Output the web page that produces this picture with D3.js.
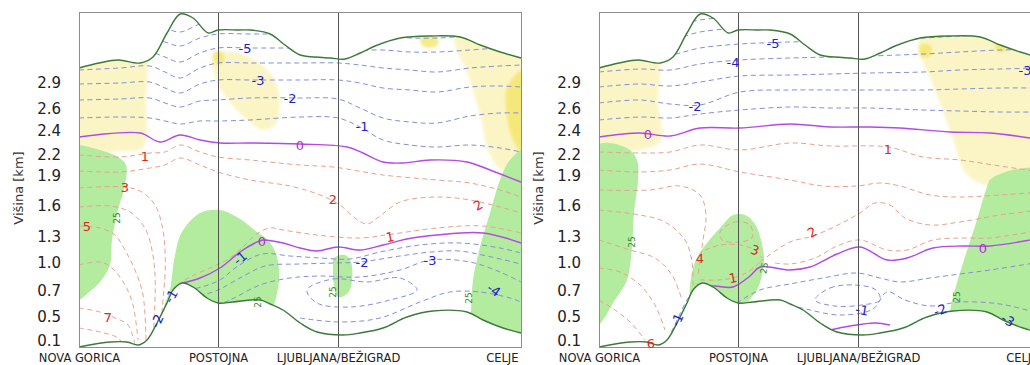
<!DOCTYPE html>
<html>
<head>
<meta charset="utf-8">
<script src="https://cdn.jsdelivr.net/npm/d3@7"></script>
<style>
  body { margin: 0; background: #fff; }
  svg { display: block; font-family: "DejaVu Sans", sans-serif; }
</style>
</head>
<body>
<svg id="chart" width="1030" height="365"></svg>
<script>
// x = distance along the section (km), z = model level coordinate
const stationNames = ["NOVA GORICA", "POSTOJNA", "LJUBLJANA/BEŽIGRAD", "CELJE"];
const stationKm = [0, 34.75, 64.75, 110.5];
const tickLabels = ["0.1", "0.5", "0.7", "1.0", "1.3", "1.6", "1.9", "2.2", "2.4", "2.6", "2.9"];
const tickLevels = [0.73, 3.13, 5.73, 8.53, 11.13, 14.2, 17.2, 19.3, 21.73, 23.97, 26.53];

const topEdge = [[0,28.0],[5,28.5],[9.8,28.8],[15.3,28.5],[18.5,29.1],[22,31.5],[25.3,33.4],[28.5,33.0],[32.3,31.5],[34.8,31.8],[40,31.8],[42.8,31.8],[47.8,31.4],[51.5,30.3],[55.3,29.3],[59,29.1],[62.8,29.0],[66.5,28.9],[70.3,29.5],[74,30.2],[80.3,31.0],[87.8,31.2],[95.3,31.1],[100.3,30.3],[105.3,29.6],[110.5,29.0]];
const terrain = [[0,0.1],[7.8,0.6],[12,0.6],[14.8,0.3],[17,0.8],[19.5,2.5],[22,4.5],[23.5,5.8],[25.8,6.5],[28.5,6.1],[32,5.0],[34.8,4.5],[38.5,4.6],[45.3,4.8],[47.8,4.4],[51,3.8],[55.3,2.5],[59.5,1.6],[66,1.3],[70.3,1.5],[76,2.0],[82,3.1],[88.5,3.7],[97,3.6],[101,2.8],[106,2.0],[110.5,1.5]];

// ---- panel 1 ----
const p1UpperX = [0,10.25,17.75,21.5,25.25,30.25,34.75,42.75,55.25,64.75,70.25,76,82.75,89.5,97.75,105.25,110.5];
const p1UpperZ = [
  [23.0,23.1,23.0,22.7,22.4,22.7,22.7,22.8,23.1,23.0,22.1,20.8,20.3,20.1,20.3,20.0,19.6],
  [24.8,24.9,25.0,24.5,24.1,24.7,24.8,25.0,25.0,24.9,24.0,23.0,22.6,22.5,23.2,23.5,23.5],
  [26.4,26.5,26.6,26.0,25.5,26.4,26.8,26.8,26.8,26.8,26.5,26.0,25.8,25.6,26.1,26.2,26.1],
  [27.8,28.0,28.2,27.6,27.0,28.0,28.5,28.5,28.5,28.5,28.3,28.0,27.8,27.6,28.0,28.2,28.3],
  [29.2,29.4,29.6,29.1,28.6,29.5,30.0,30.0,30.0,30.0,29.8,29.8,29.6,29.6,29.8,30.0,30.0],
  [30.6,30.8,31.0,30.6,30.2,31.0,31.4,31.4,31.4,31.4,31.2,31.2,31.0,31.0,31.2,31.4,31.4],
  [32.0,32.2,32.4,32.0,31.6,32.4,32.8,32.8,32.8,32.8,32.6,32.6,32.4,32.4,32.6,32.8,32.8]
];
const p1Zero = [
  [[0,21.1],[15.25,21.5],[20.25,20.6],[25.25,21.3],[30.25,20.8],[35.25,20.5],[42.75,20.5],[55.25,20.4],[67,20.1],[71,19.5],[76,18.6],[81,18.5],[87.75,18.8],[97,18.6],[102.75,17.8],[110.5,16.6]],
  [[25.75,6.5],[30.25,7.0],[35.25,8.0],[40.25,9.6],[44,10.5],[46,10.8],[51,10.5],[55.25,10.0],[59.5,9.7],[64.75,10.1],[70.25,9.8],[76,10.3],[82,10.9],[89.5,11.3],[101,11.5],[110.5,10.5]]
];
const p1Red = [
  [[0,19.3],[10.25,19.1],[17.75,19.5],[21.5,19.6],[25.25,20.3],[30.25,19.6],[34.75,19.1],[42.75,18.8],[55.25,18.3],[63.5,18.1],[76,17.3],[89.5,16.8],[97.75,16.5],[105.25,15.8],[110.5,15.1]],
  [[0,17.7],[10.25,17.6],[17.75,18.0],[21.5,18.3],[25.25,19.0],[30.25,18.3],[34.75,17.6],[42.75,16.8],[52.75,16.2],[60.25,15.3],[65.25,14.3],[69,13.0],[72,12.4],[75.25,13.2],[80.25,14.6],[89.5,15.1],[97.75,14.8],[105.25,14.1],[110.5,13.5]],
  [[22.75,4.8],[24.75,6.3],[27.75,7.1],[32.75,8.0],[37.75,9.0],[41.5,10.3],[44,11.3],[47.75,12.0],[51,11.8],[59.5,11.3],[70.25,11.0],[78.5,11.4],[89.5,12.0],[101,12.2],[110.5,11.5]],
  [[0,16.0],[11.5,16.1],[15.75,15.6],[19,14.3],[20.75,12.3],[21.5,9.8],[21.5,7.3],[21,4.8],[20.25,0.8]],
  [[0,14.1],[7.75,14.2],[12.75,13.6],[16.5,12.0],[18.25,9.8],[19,7.3],[19,4.8],[18.5,0.8]],
  [[0,12.2],[5.25,12.0],[9,11.3],[11.5,9.8],[14,7.8],[16,5.3],[16.75,0.8]],
  [[0,8.3],[5.25,8.6],[8.25,8.0],[11.5,6.3],[13.5,4.3],[14.75,0.8]],
  [[0,4.0],[5.25,3.6],[9,3.0],[12.25,2.3],[14,0.3]],
  [[0,2.0],[5.25,1.6],[9.75,1.0],[11.5,0]]
];
const p1Blue = [
  [[20.25,1.8],[22.25,3.8],[24.25,5.3],[27.75,5.8],[31.5,6.2],[35.25,6.8],[39.75,8.2],[45.75,9.4],[52.75,9.2],[60.25,9.0],[67.75,8.9],[75.25,9.6],[85.25,10.3],[95.25,10.5],[105.25,10.0],[110.5,9.5]],
  [[22.75,2.3],[25.25,4.0],[29,5.0],[34.75,5.8],[40.25,7.0],[46.5,8.2],[55.25,8.4],[64,8.5],[70.25,8.6],[80.25,9.2],[88,9.6],[95,9.7],[102,9.2],[110.5,8.4]],
  [[30.25,3.6],[37.75,4.8],[45.25,6.3],[52.75,7.0],[60.25,7.2],[70.25,7.1],[80.25,7.8],[87.75,8.8],[97.75,8.6],[105.25,7.6],[110.5,6.6]],
  [[55.25,3.0],[65.25,2.6],[75.25,3.0],[85.25,4.6],[92.75,5.6],[100.25,5.6],[107.75,5.0],[110.5,4.6]]
];
const p1BlueLoops = [
  [[57,5.8],[63.5,6.9],[72,6.6],[80.25,7.0],[84.5,5.8],[77.75,4.8],[67.75,4.1],[59.5,4.5]]
];
const p1Green = [
  [[-3,20.3],[0,20.3],[5.25,19.8],[9.75,19.1],[11.75,18.3],[11.5,16.3],[9.75,13.8],[8.25,10.8],[7.75,8.3],[5.25,6.6],[2.25,5.5],[0,4.8],[-3,4.8]],
  [[21.5,3.8],[22.75,5.8],[24,9.3],[25.75,11.6],[30.25,13.5],[35.25,13.8],[40.25,12.9],[44.5,11.6],[47.25,10.8],[49.5,9.1],[50,6.8],[48.75,4.3],[46.5,2.3],[30.25,1.3]],
  [[63.75,9.0],[66.5,9.3],[68,8.6],[68.25,6.8],[67.25,5.5],[64.75,5.1],[63.75,6.3],[63.5,8.0]],
  [[111.25,19.8],[107.75,18.8],[105.25,16.8],[102.75,13.5],[100.25,10.1],[98.5,6.8],[98,3.8],[97.75,0.8],[111.25,0.3]]
];
const p1Yellow = [
  [[-0.75,29.3],[16,29.3],[16.75,24.8],[16,20.0],[11.5,19.7],[-0.75,20.0]],
  [[33.5,29.3],[39,29.6],[44.75,28.6],[49,26.8],[50.25,24.3],[49,22.3],[45.75,21.8],[41.5,23.0],[37.25,24.8],[34.25,26.8]],
  [[94,31.0],[102.75,31.2],[111.25,29.8],[111.25,18.0],[106.5,17.6],[102.75,19.3],[100.25,23.3],[97.25,27.3]]
];
const p1Bright = [
  [[33.75,29.6],[35.75,29.6],[36.25,28.6],[34.25,28.4]],
  [[85.25,31.2],[89.25,31.2],[89.75,30.3],[86.25,30.1]],
  [[107.25,26.3],[111.25,27.8],[111.25,19.3],[108.5,20.8],[106.75,23.8]]
];
const p1Labels = [
  [41.5,30.0,"-5","b",0],[44.75,26.8,"-3","b",0],[52.75,25.0,"-2","b",0],[70.75,22.2,"-1","b",0],
  [40.25,9.0,"-1","b",-40],[70.75,8.6,"-2","b",0],[87.75,8.8,"-3","b",0],[103.75,5.8,"-4","b",35],
  [23,5.2,"-1","b",-60],[19.5,2.7,"-2","b",-65],
  [55.25,20.3,"0","p",0],[45.75,10.7,"0","p",0],
  [16.5,19.2,"1","r",0],[11.5,16.1,"3","r",0],[2,12.2,"5","r",0],[7.25,3.1,"7","r",0],
  [63.5,14.9,"2","r",0],[99.75,14.3,"2","r",-30],[77.75,11.1,"1","r",-10],
  [9.5,13.0,"25","g",-90],[44.75,4.6,"25","g",-90],[63.5,5.6,"25","g",-90],[97.5,5.0,"25","g",-90]
];

// ---- panel 2 ----
const p2UpperX = [0,10.25,17.75,25.25,35.25,47.75,57.75,67.75,81,90.25,100.25,110.5];
const p2UpperZ = [
  [22.8,23.1,23.0,23.4,23.8,24.1,24.0,24.0,23.8,23.7,23.6,23.6],
  [24.5,24.8,24.4,24.3,25.6,25.8,25.8,25.8,25.8,25.9,26.0,26.0],
  [26.1,26.4,26.2,26.6,27.2,27.3,27.4,27.5,27.6,27.8,27.9,28.0],
  [27.6,27.9,27.8,28.4,28.8,29.0,29.1,29.2,29.4,29.6,29.8,29.8],
  [29.0,29.3,29.3,30.0,30.4,30.6,30.7,30.8,31.0,31.2,31.4,31.4],
  [30.4,30.7,30.8,31.6,32.0,32.1,32.2,32.3,32.4,32.6,32.8,32.8],
  [31.8,32.1,32.2,32.8,33.2,33.4,33.5,33.6,33.7,33.8,33.9,33.9]
];
const p2Zero = [
  [[0,21.1],[10.25,21.5],[17.75,21.2],[25.25,22.0],[35.25,22.0],[47.75,22.4],[57.75,22.1],[67.75,22.1],[75.25,22.0],[87.75,21.6],[97.75,21.5],[107.75,21.0],[110.5,20.8]],
  [[24.5,6.3],[29,6.2],[33.5,6.1],[37.75,7.2],[40.25,8.1],[47.75,7.8],[52.75,8.1],[59.5,9.4],[65.25,10.1],[72,8.8],[77,9.0],[83.5,10.0],[91,10.2],[97.75,10.2],[110.5,11.0]],
  [[57.75,1.8],[62.75,2.2],[69,2.5],[72.75,2.3]]
];
const p2Red = [
  [[0,19.6],[10.25,19.5],[17.75,19.6],[25.25,20.3],[35.25,19.8],[47.75,20.5],[57.75,20.2],[72.25,20.1],[81,19.1],[90.25,18.8],[100.25,18.2],[110.5,17.6]],
  [[0,17.8],[10.25,17.6],[17.75,17.8],[25.25,18.4],[35.25,17.6],[47.75,16.8],[56,16.2],[64.5,16.2],[70.25,16.5],[75.25,16.2],[82.75,15.3],[90.25,15.1],[100.25,15.3],[110.5,15.6]],
  [[40.25,8.6],[47.75,10.6],[53.5,11.2],[60.25,12.4],[65.25,13.5],[69,14.5],[72.75,14.3],[76.5,13.0],[82.75,12.3],[90.25,12.6],[100.25,13.3],[110.5,13.8]],
  [[44,8.5],[47.75,8.4],[54,9.0],[59.5,10.2],[65.25,10.8],[72,9.8],[77,9.8],[83.5,10.8],[91,11.0],[97.75,11.0],[110.5,11.8]],
  [[0,15.8],[12.75,15.8],[20.25,16.2],[25.25,15.3],[26.75,13.3],[26,10.8],[24.75,7.3]],
  [[0,13.8],[10.25,13.3],[16.5,12.6],[21.5,10.8],[23.25,8.6],[23.5,6.3]],
  [[0,10.8],[7.75,9.8],[14,9.0],[18.25,7.3],[20.75,4.8]],
  [[0,8.0],[5.25,7.6],[10.25,6.3],[14,4.3],[16.5,1.8]],
  [[0,4.8],[4,3.8],[7.75,2.6],[11.5,0.8]],
  [[25.25,6.8],[29.75,6.8],[33.5,7.0],[37.25,7.6],[40.25,8.6]],
  [[26.5,9.8],[30.25,10.3],[35.25,10.3],[39,9.8],[40.75,9.0]]
];
const p2RedLoops = [
  [[30.25,11.6],[34,12.6],[37.75,12.3],[38.25,11.0],[34.75,10.6],[30.75,10.8]]
];
const p2Blue = [
  [[34.5,4.5],[40.25,5.8],[47.75,6.4],[56,7.0],[64.5,7.5],[70.25,7.0],[75.25,6.6],[82.75,7.0],[90.25,7.4],[97.75,7.8],[110.5,8.6]],
  [[47.75,4.3],[52.75,3.8],[60.25,3.3],[68.5,3.9],[72,5.6],[76.5,4.8],[82.75,4.2],[90.25,4.6],[100.25,4.4],[110.5,3.4]],
  [[17.25,0.8],[19.75,3.0],[22.75,5.3],[24.5,6.1]]
];
const p2BlueLoops = [
  [[54,4.8],[57.75,6.0],[64,6.3],[69.25,5.8],[70.25,4.8],[65.75,4.3],[59,4.2]]
];
const p2Green = [
  [[-0.75,20.2],[7,20.0],[9.5,18.8],[9.75,16.8],[8.75,13.5],[8.25,10.1],[7,6.8],[3.5,4.5],[1,2.8],[-0.75,2.1]],
  [[22.75,4.8],[24,8.6],[27,10.5],[30.25,12.0],[33.5,13.3],[36.5,13.3],[39,12.4],[40.5,10.8],[41.25,9.0],[40.75,7.3],[39.5,5.8],[37.25,4.6],[35.25,3.3],[25.25,2.3]],
  [[98.25,17.0],[111.5,17.6],[111.5,0.3],[87.75,1.8],[87.75,3.6],[88.5,5.1],[91,8.5],[94.5,12.8],[96.75,15.8]]
];
const p2Yellow = [
  [[-0.75,29.3],[14.5,29.3],[14.75,24.8],[15,20.5],[-0.75,20.5]],
  [[80.25,31.0],[100.25,31.0],[111.5,29.8],[111.5,15.6],[102.75,15.3],[96.5,16.3],[92,17.3],[87.75,21.8],[84,25.8]]
];
const p2Bright = [
  [[80.25,30.3],[82.75,30.3],[83,29.3],[80.5,29.1]],
  [[99.25,30.8],[101.75,30.6],[101.25,29.6],[99.25,29.8]]
];
const p2Labels = [
  [43.5,30.5,"-5","b",0],[33.5,28.6,"-4","b",0],[24,24.2,"-2","b",0],[106.5,27.8,"-3","b",0],
  [65.75,3.8,"-1","b",10],[85.25,3.8,"-2","b",-20],[102.25,2.8,"-3","b",30],[19.5,2.8,"-1","b",-65],
  [12.25,21.4,"0","p",0],[96,10.0,"0","p",0],
  [72.25,19.9,"1","r",0],[53.25,11.6,"2","r",-30],[25.25,9.0,"4","r",0],[39,9.8,"3","r",20],
  [33.5,7.0,"1","r",-10],[13,0.5,"6","r",0],
  [8.25,10.6,"25","g",-90],[41.25,8.0,"25","g",-80],[89.5,5.1,"25","g",-90]
];

const W = 442, H = 336;
const svg = d3.select("#chart");
const x = d3.scaleLinear().domain([0, 110.5]).range([0, W]);
const y = d3.scaleLinear().domain([0, 33.6]).range([H, 0]);

const smooth = d3.line().x(d => x(d[0])).y(d => y(d[1])).curve(d3.curveCatmullRom.alpha(0.5));
const blob = d3.line().x(d => x(d[0])).y(d => y(d[1])).curve(d3.curveCatmullRomClosed.alpha(0.5));
const zip = (xs, zs) => xs.map((v, i) => [v, zs[i]]);

const labelColor = { b: "#1f22c8", r: "#e2261d", p: "#b233d4", g: "#2f8a2f" };

const defs = svg.append("defs");
defs.append("filter").attr("id", "soft")
  .attr("x", "-20%").attr("y", "-20%").attr("width", "140%").attr("height", "140%")
  .append("feGaussianBlur").attr("stdDeviation", 1.6);

function drawPanel(idx, left, p) {
  const g = svg.append("g").attr("transform", `translate(${left},12)`);

  // region between upper edge and terrain
  const domainPath = smooth(topEdge) + "L" + smooth(terrain.slice().reverse()).slice(1) + "Z";
  defs.append("clipPath").attr("id", "clip" + idx).append("path").attr("d", domainPath);
  const inner = g.append("g").attr("clip-path", `url(#clip${idx})`);

  inner.selectAll(".yel").data(p.yellow).join("path").attr("class", "yel")
    .attr("d", blob).attr("fill", "#fbf5c6").attr("filter", "url(#soft)");
  inner.selectAll(".bri").data(p.bright).join("path").attr("class", "bri")
    .attr("d", blob).attr("fill", "#f3e462").attr("opacity", 0.75).attr("filter", "url(#soft)");
  inner.selectAll(".grn").data(p.green).join("path").attr("class", "grn")
    .attr("d", blob).attr("fill", "#b3ec9f");

  const dashed = (cls, data, gen, color) =>
    inner.selectAll("." + cls).data(data).join("path").attr("class", cls)
      .attr("d", gen).attr("fill", "none").attr("stroke", color)
      .attr("stroke-width", 1).attr("stroke-dasharray", "5,3.5");

  dashed("bup", p.upperZ.map(zs => zip(p.upperX, zs)), smooth, "#868dda");
  dashed("blo", p.blue, smooth, "#868dda");
  dashed("blp", p.blueLoops, blob, "#868dda");
  dashed("red", p.red, smooth, "#e8a08f");
  dashed("rlp", p.redLoops, blob, "#e8a08f");

  inner.selectAll(".zero").data(p.zero).join("path").attr("class", "zero")
    .attr("d", smooth).attr("fill", "none").attr("stroke", "#b548e6").attr("stroke-width", 1.4);

  // station verticals
  g.selectAll(".stn").data(stationKm.slice(1, 3)).join("line").attr("class", "stn")
    .attr("x1", d => Math.round(x(d)) + 0.5).attr("x2", d => Math.round(x(d)) + 0.5)
    .attr("y1", 0).attr("y2", H).attr("stroke", "#555").attr("stroke-width", 1);

  // upper edge and terrain
  g.selectAll(".edge").data([topEdge, terrain]).join("path").attr("class", "edge")
    .attr("d", smooth).attr("fill", "none").attr("stroke", "#3c7a3c").attr("stroke-width", 1.4);

  g.append("rect").attr("x", 0.5).attr("y", 0.5).attr("width", W).attr("height", H - 1)
    .attr("fill", "none").attr("stroke", "#8c8c8c").attr("stroke-width", 1);

  // contour labels
  g.selectAll(".lbl").data(p.labels).join("text").attr("class", "lbl")
    .attr("transform", d => `translate(${x(d[0])},${y(d[1])}) rotate(${d[4]})`)
    .attr("text-anchor", "middle").attr("dy", "0.36em")
    .attr("font-size", d => d[3] === "g" ? 9 : 13)
    .attr("fill", d => labelColor[d[3]])
    .text(d => d[2]);

  // y axis
  const ya = g.append("g").call(d3.axisLeft(y).tickValues(tickLevels)
    .tickFormat((d, i) => tickLabels[i]).tickSize(0).tickPadding(18));
  ya.select(".domain").remove();
  ya.selectAll("text").attr("font-size", 15).attr("fill", "#222").attr("font-family", "DejaVu Sans");

  g.append("text").attr("transform", `translate(-61,${H / 2 + 8}) rotate(-90)`)
    .attr("text-anchor", "middle").attr("dy", "0.35em")
    .attr("font-size", 13).attr("fill", "#333").text("Višina [km]");

  // x axis with station names
  const xa = g.append("g").attr("transform", `translate(0,${H})`)
    .call(d3.axisBottom(x).tickValues(stationKm)
      .tickFormat((d, i) => stationNames[i]).tickSize(0).tickPadding(6));
  xa.select(".domain").remove();
  xa.selectAll("text").attr("font-size", 11.5).attr("fill", "#222").attr("font-family", "DejaVu Sans");
  xa.selectAll("text").filter((d, i) => i === stationKm.length - 1)
    .attr("text-anchor", "end").attr("dx", -3);
}

drawPanel(1, 79, {
  upperX: p1UpperX, upperZ: p1UpperZ, zero: p1Zero, red: p1Red, redLoops: [],
  blue: p1Blue, blueLoops: p1BlueLoops, green: p1Green, yellow: p1Yellow,
  bright: p1Bright, labels: p1Labels
});
drawPanel(2, 599, {
  upperX: p2UpperX, upperZ: p2UpperZ, zero: p2Zero, red: p2Red, redLoops: p2RedLoops,
  blue: p2Blue, blueLoops: p2BlueLoops, green: p2Green, yellow: p2Yellow,
  bright: p2Bright, labels: p2Labels
});
</script>
</body>
</html>
